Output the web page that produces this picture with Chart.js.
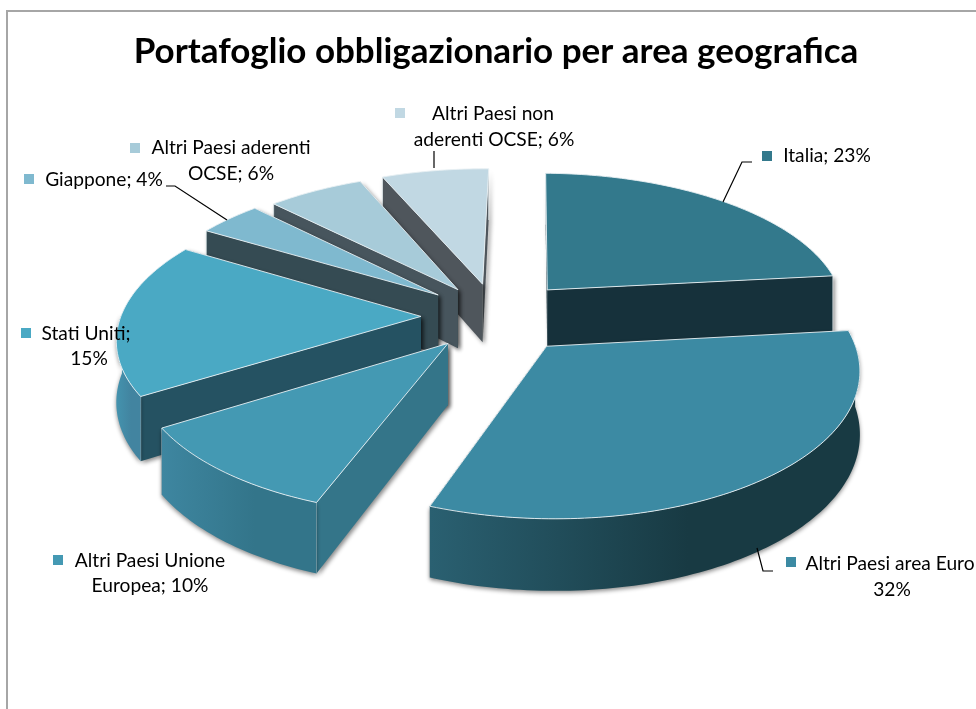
<!DOCTYPE html>
<html lang="it">
<head>
<meta charset="utf-8">
<title>Portafoglio obbligazionario per area geografica</title>
<script src="https://cdn.jsdelivr.net/npm/chart.js@4/dist/chart.umd.js"></script>
<style>
  html, body { margin: 0; height: 100%; overflow: hidden; background: #fff; }
  #cornice { position: absolute; left: 6px; top: 10px; right: -10px; bottom: -10px; border: 2px solid #a6a6a6; }
  #grafico { position: absolute; left: 0; top: 0; }
</style>
</head>
<body>
<div id="cornice"></div>
<canvas id="grafico" width="994" height="709"></canvas>
<script>
const titolo = 'Portafoglio obbligazionario per area geografica';
const categorie = ['Italia', 'Altri Paesi area Euro', 'Altri Paesi Unione Europea', 'Stati Uniti', 'Giappone', 'Altri Paesi aderenti OCSE', 'Altri Paesi non aderenti OCSE'];
const quote = [23, 32.4, 10.4, 17.5, 4, 6, 6.7];
const percentuali = ['23%', '32%', '10%', '15%', '4%', '6%', '6%'];

const coloriFette = ['#33798c', '#3c8aa3', '#4499b3', '#4aa9c4', '#7fb9cf', '#a7cbd9', '#c1d8e3'];
const coloriTagli = ['#16313b', '#183a43', '#347589', '#255262', '#354b53', '#47555d', '#4f565c'];
const coloriBordo = [['#16313b', '#16313b'], ['#2a6071', '#183a43'], ['#3e86a0', '#33758a'], ['#4493ae', '#4284a0'], ['#354b53', '#354b53'], ['#47555d', '#47555d'], ['#4f565c', '#4f565c']];
const esplosione = [78, 80, 74, 75, 75, 70, 72];

// righe delle etichette: x centro, y centro; q = quadratino; linea = richiamo
const layoutEtichette = [
  { q: [762, 151], righe: [['Italia; ' + percentuali[0], 827, 156]], linea: [[723, 202], [742, 162], [752, 162]] },
  { q: [786, 557], righe: [['Altri Paesi area Euro', 890, 564], [percentuali[1], 892, 590]], linea: [[757, 548], [763, 571], [773, 571]] },
  { q: [53, 555], righe: [['Altri Paesi Unione', 150, 561], ['Europea; ' + percentuali[2], 150, 586]] },
  { q: [21, 328], righe: [['Stati Uniti;', 86, 334], [percentuali[3], 89, 359]] },
  { q: [24, 174], righe: [['Giappone; ' + percentuali[4], 104, 180]], linea: [[166, 186], [175, 186], [227, 220]] },
  { q: [130, 143], righe: [['Altri Paesi aderenti', 231, 148], ['OCSE; ' + percentuali[5], 231, 174]] },
  { q: [395, 108], righe: [['Altri Paesi non', 493, 114], ['aderenti OCSE; ' + percentuali[6], 494, 140]], linea: [[434, 151], [434, 168]] }
];

// parametri della vista 3D
const SCHIACCIA = 0.465;
const DISTANZA = 2170;
const SPESSORE = 60;

function proietta(c, x, y, z) {
  const s = DISTANZA / (DISTANZA - y);
  return [c.x + x * s, c.y + (SCHIACCIA * y + z) * s];
}

function poligono(ctx, punti) {
  ctx.beginPath();
  punti.forEach((p, i) => i ? ctx.lineTo(p[0], p[1]) : ctx.moveTo(p[0], p[1]));
  ctx.closePath();
}

function disegnaFetta(ctx, c, i) {
  const medio = (c.start + c.end) / 2;
  const tx = Math.cos(medio) * c.off, ty = Math.sin(medio) * c.off;
  const bordo = (a, z) => proietta(c, tx + Math.cos(a) * c.r, ty + Math.sin(a) * c.r, z);
  const arco = [];
  const passi = Math.ceil((c.end - c.start) / 0.02);
  for (let n = 0; n <= passi; n++) arco.push(c.start + (c.end - c.start) * n / passi);

  const bianco = 'rgba(232,240,243,0.9)';

  // tagli radiali, prima quello piu lontano
  const tagli = [c.start, c.end].sort((a, b) => Math.sin(a) - Math.sin(b));
  tagli.forEach(a => {
    ctx.save();
    ctx.shadowColor = 'rgba(0,0,0,0.45)';
    ctx.shadowBlur = 4;
    ctx.shadowOffsetX = 2;
    ctx.shadowOffsetY = 2;
    poligono(ctx, [proietta(c, tx, ty, 0), bordo(a, 0), bordo(a, SPESSORE), proietta(c, tx, ty, SPESSORE)]);
    ctx.fillStyle = coloriTagli[i];
    ctx.fill();
    ctx.restore();
    ctx.strokeStyle = bianco;
    ctx.lineWidth = 0.8;
    ctx.beginPath();
    const p = bordo(a, 0), q = bordo(a, SPESSORE);
    ctx.moveTo(p[0], p[1]);
    ctx.lineTo(q[0], q[1]);
    ctx.stroke();
  });

  // parete esterna, solo la parte rivolta verso chi guarda
  const visibili = arco.filter(a => Math.sin(a) > -0.02);
  if (visibili.length > 1) {
    const alto = visibili.map(a => bordo(a, 0));
    const basso = visibili.map(a => bordo(a, SPESSORE)).reverse();
    const xs = alto.map(p => p[0]);
    const grad = ctx.createLinearGradient(Math.min(...xs), 0, Math.max(...xs), 0);
    grad.addColorStop(0, coloriBordo[i][0]);
    grad.addColorStop(0.6, coloriBordo[i][1]);
    grad.addColorStop(1, coloriBordo[i][1]);
    ctx.save();
    ctx.shadowColor = 'rgba(0,0,0,0.45)';
    ctx.shadowBlur = 4;
    ctx.shadowOffsetY = 2;
    poligono(ctx, alto.concat(basso));
    ctx.fillStyle = grad;
    ctx.fill();
    ctx.restore();
  }

  // faccia superiore
  poligono(ctx, [proietta(c, tx, ty, 0)].concat(arco.map(a => bordo(a, 0))));
  ctx.fillStyle = coloriFette[i];
  ctx.fill();
  ctx.strokeStyle = bianco;
  ctx.lineWidth = 1;
  ctx.stroke();
}

const torta3d = {
  id: 'torta3d',
  beforeDatasetDraw() { return false; },
  afterDatasetsDraw(chart) {
    const ctx = chart.ctx;
    const fette = chart.getDatasetMeta(0).data.map((arc, i) => {
      const p = arc.getProps(['x', 'y', 'startAngle', 'endAngle', 'outerRadius'], true);
      return { i, x: p.x, y: p.y, start: p.startAngle, end: p.endAngle, r: p.outerRadius, off: arc.options.offset };
    });
    fette.sort((a, b) => Math.sin((a.start + a.end) / 2) - Math.sin((b.start + b.end) / 2));
    fette.forEach(c => disegnaFetta(ctx, c, c.i));
  }
};

const etichette = {
  id: 'etichette',
  afterDraw(chart) {
    const ctx = chart.ctx;
    ctx.save();
    ctx.font = '19.2px Lato';
    ctx.textAlign = 'center';
    ctx.textBaseline = 'middle';
    layoutEtichette.forEach((e, i) => {
      ctx.fillStyle = coloriFette[i];
      ctx.fillRect(e.q[0], e.q[1], 10, 10);
      ctx.fillStyle = '#000';
      e.righe.forEach(r => ctx.fillText(r[0], r[1], r[2]));
      if (e.linea) {
        ctx.strokeStyle = '#000';
        ctx.lineWidth = 1.2;
        ctx.beginPath();
        e.linea.forEach((p, n) => n ? ctx.lineTo(p[0], p[1]) : ctx.moveTo(p[0], p[1]));
        ctx.stroke();
      }
    });
    ctx.restore();
  }
};

const graficoPortafoglio = new Chart(document.getElementById('grafico').getContext('2d'), {
  type: 'pie',
  data: {
    labels: categorie,
    datasets: [{
      data: quote,
      backgroundColor: coloriFette,
      offset: esplosione
    }]
  },
  options: {
    responsive: false,
    animation: false,
    radius: 300,
    rotation: 1,
    layout: { padding: { left: 0, right: 2, top: 0, bottom: 160 } },
    plugins: {
      legend: { display: false },
      tooltip: { enabled: false },
      title: {
        display: true,
        text: titolo,
        color: '#000',
        font: { family: 'Lato', size: 35, weight: 'bold' },
        padding: { top: 31, bottom: 10 }
      }
    }
  },
  plugins: [torta3d, etichette]
});
</script>
</body>
</html>
